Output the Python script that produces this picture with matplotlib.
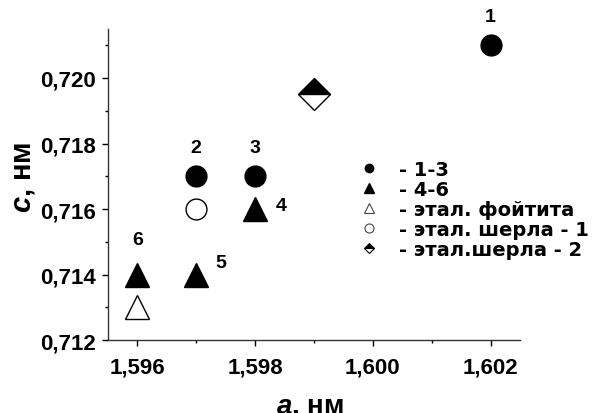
import matplotlib
matplotlib.use("Agg")
import matplotlib.pyplot as plt
from matplotlib.lines import Line2D

plt.rcParams['font.family'] = ['Liberation Sans', 'DejaVu Sans']
plt.rcParams['font.weight'] = 'bold'
plt.rcParams['mathtext.fontset'] = 'custom'
plt.rcParams['mathtext.bfit'] = 'Liberation Sans:italic:bold'

# lattice parameters a, c (nm)
circ_a = [1.602, 1.597, 1.598]
circ_c = [0.721, 0.717, 0.717]
circ_lbl = ["1", "2", "3"]

tri_a = [1.598, 1.597, 1.596]
tri_c = [0.716, 0.714, 0.714]
tri_lbl = ["4", "5", "6"]

foit_a = [1.596]
foit_c = [0.713]
sherl1_a = [1.597]
sherl1_c = [0.716]
sherl2_a = [1.599]
sherl2_c = [0.7195]

legend_labels = ["- 1-3", "- 4-6", "- этал. фойтита", "- этал. шерла - 1", "- этал.шерла - 2"]
xticks = [1.596, 1.598, 1.600, 1.602]
yticks = [0.712, 0.714, 0.716, 0.718, 0.720]

fig = plt.figure(figsize=(6.02, 4.14), dpi=100)
ax = fig.add_axes([0.179, 0.176, 0.685, 0.752])

ax.plot(circ_a, circ_c, 'o', ms=15, color='black', ls='none')
ax.plot(tri_a, tri_c, '^', ms=17, color='black', ls='none')
ax.plot(foit_a, foit_c, '^', ms=17, mfc='white', mec='black', mew=1, ls='none')
ax.plot(sherl1_a, sherl1_c, 'o', ms=15, mfc='white', mec='black', mew=1, ls='none')
ax.plot(sherl2_a, sherl2_c, 'D', ms=16, fillstyle='top', mfc='black',
        mfcalt='white', mec='black', mew=1, ls='none')

# point numbers
lbl_offsets = {"1": (0, 29), "2": (0, 29), "3": (0, 29),
               "4": (26, 4), "5": (25, 12), "6": (0, 35)}
for xa, yc, t in zip(circ_a + tri_a, circ_c + tri_c, circ_lbl + tri_lbl):
    ax.annotate(t, (xa, yc), xytext=lbl_offsets[t], textcoords='offset pixels',
                ha='center', va='center', fontsize=14, fontweight='bold')

ax.set_xlim(1.5955, 1.6025)
ax.set_ylim(0.712, 0.7215)
ax.set_xticks(xticks)
ax.set_yticks(yticks)
ax.set_xticklabels([f"{v:.3f}".replace('.', ',') for v in xticks])
ax.set_yticklabels([f"{v:.3f}".replace('.', ',') for v in yticks])
ax.set_xticks([1.597, 1.599, 1.601], minor=True)
ax.set_yticks([0.713, 0.715, 0.717, 0.719, 0.721], minor=True)
ax.tick_params(which='major', direction='out', length=4.5, width=1, labelsize=16, pad=4)
ax.tick_params(axis='x', which='major', pad=7)
ax.tick_params(which='minor', direction='out', length=2.5, width=1)
for lab in ax.get_xticklabels() + ax.get_yticklabels():
    lab.set_fontweight('bold')

ax.spines['top'].set_visible(False)
ax.spines['right'].set_visible(False)
for s in ('left', 'bottom'):
    ax.spines[s].set_linewidth(1)
    ax.spines[s].set_color('#333333')

ax.set_xlabel(r"$\mathbfit{a}$, нм", fontsize=20, fontweight='bold')
ax.xaxis.set_label_coords(0.49, -0.17)
ax.set_ylabel(r"$\mathbfit{c}$, нм", fontsize=21, fontweight='bold')
ax.yaxis.set_label_coords(-0.172, 0.527)

handles = [
    Line2D([], [], marker='o', ls='none', ms=6, color='black'),
    Line2D([], [], marker='^', ls='none', ms=7, color='black'),
    Line2D([], [], marker='^', ls='none', ms=7, mfc='white', mec='#444444', mew=0.8),
    Line2D([], [], marker='o', ls='none', ms=6.5, mfc='white', mec='#444444', mew=0.8),
    Line2D([], [], marker='D', ls='none', ms=5.5, fillstyle='top', mfc='black',
           mfcalt='white', mec='black', mew=0.8),
]
leg = ax.legend(handles, legend_labels, loc='upper left', bbox_to_anchor=(350 / 602, 1 - 151 / 414),
                bbox_transform=fig.transFigure, frameon=False,
                prop={'family': 'DejaVu Sans', 'weight': 'bold', 'size': 14},
                handlelength=1.0, handletextpad=1.0, labelspacing=0.05, borderpad=0)

fig.savefig("out.png", dpi=100)
